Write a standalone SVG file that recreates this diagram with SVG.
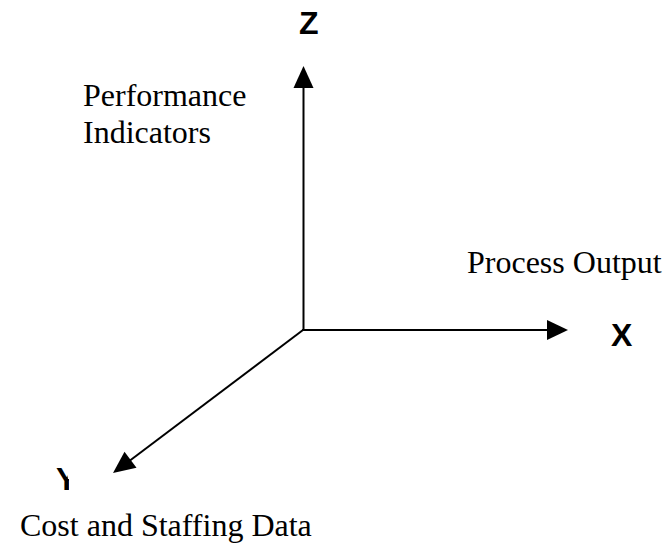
<svg xmlns="http://www.w3.org/2000/svg" width="665" height="544" viewBox="0 0 665 544">
<style>
.ax{stroke:#000;stroke-width:2;fill:none}
.lbl{font-family:"Liberation Serif",serif;font-size:32px;fill:#000}
.axl{font-family:"Liberation Sans",sans-serif;font-size:32px;font-weight:bold;fill:#000}
</style>
<defs>
<clipPath id="yc"><polygon points="50,467 66,467 68,479 69,479 69,497 50,497"/></clipPath>
</defs>
<g id="connectors">
<line class="ax" x1="303.5" y1="331" x2="303.5" y2="86"/>
<polygon points="303.5,66 293.5,88 313.5,88" fill="#000"/>
<line class="ax" x1="302" y1="330" x2="549" y2="330"/>
<polygon points="568,330 547,320 547,340" fill="#000"/>
<line class="ax" x1="303" y1="330" x2="128" y2="462"/>
<polygon points="113,473 124.5,451.7 136.5,467.7" fill="#000"/>
</g>
<g id="z-axis-label"><text class="axl" x="299" y="34">Z</text></g>
<g id="x-axis-label"><text class="axl" x="611" y="346">X</text></g>
<g id="y-axis-label"><text class="axl" x="56" y="490" clip-path="url(#yc)">Y</text></g>
<g id="performance-indicators">
<text class="lbl" x="83" y="106">Performance</text>
<text class="lbl" x="83" y="143">Indicators</text>
</g>
<g id="process-output"><text class="lbl" x="467" y="273">Process Output</text></g>
<g id="cost-staffing"><text class="lbl" x="20" y="536">Cost and Staffing Data</text></g>
</svg>
